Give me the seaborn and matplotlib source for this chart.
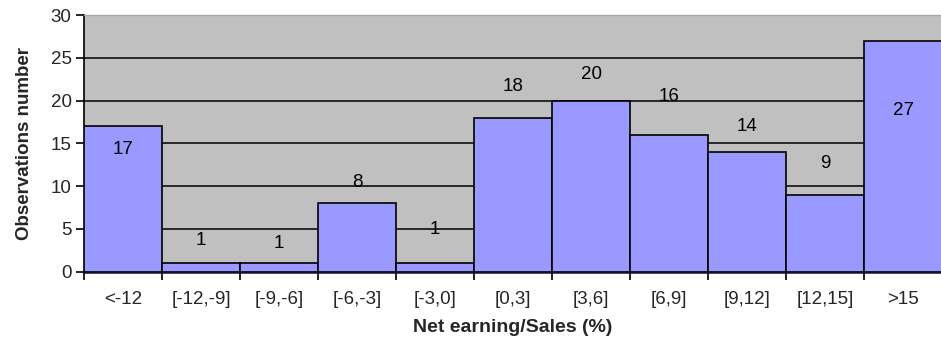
import matplotlib
matplotlib.use("Agg")
import matplotlib.pyplot as plt
import seaborn as sns
import pandas as pd

categories = ["<-12", "[-12,-9]", "[-9,-6]", "[-6,-3]", "[-3,0]", "[0,3]",
              "[3,6]", "[6,9]", "[9,12]", "[12,15]", ">15"]
observations = [17, 1, 1, 8, 1, 18, 20, 16, 14, 9, 27]
# vertical offset of each value label relative to its bar top
label_offsets = [-2.7, 2.6, 2.3, 2.4, 3.95, 3.7, 3.1, 4.5, 2.95, 3.6, -8.2]

sns.set_theme(style="white")
plt.rcParams["font.family"] = ["Liberation Sans", "DejaVu Sans"]

df = pd.DataFrame({"bin": categories, "n": observations})

fig = plt.figure(figsize=(9.41, 3.43), dpi=100)
ax = fig.add_axes([84 / 941, (343 - 271.7) / 343, (942 - 84) / 941, (271.7 - 15) / 343])
ax.set_facecolor("#c0c0c0")

sns.barplot(data=df, x="bin", y="n", ax=ax, color="#9999ff", saturation=1,
            width=1.0, edgecolor="black", linewidth=1.2, zorder=3)

ax.set_ylim(0, 30)
ax.set_xlim(-0.5, len(categories) - 0.5)
ax.set_yticks(range(0, 31, 5))
for y in range(5, 30, 5):
    ax.axhline(y, color="black", linewidth=1.1, zorder=1)

for i, (v, off) in enumerate(zip(observations, label_offsets)):
    ax.text(i, v + off, str(v), ha="center", va="center", fontsize=13.5,
            color="black", zorder=4)

ax.spines["right"].set_visible(False)
ax.spines["top"].set_color("#a8a8a8")
ax.spines["top"].set_linewidth(1.0)
ax.spines["left"].set_color("black")
ax.spines["left"].set_linewidth(1.2)
ax.spines["bottom"].set_color("#101030")
ax.spines["bottom"].set_linewidth(1.8)

# tick marks sit on category boundaries, labels stay centered
ax.set_xticks([i - 0.5 for i in range(len(categories) + 1)], minor=True)
ax.set_xticks(range(len(categories)))
ax.set_xticklabels(categories)
ax.tick_params(axis="x", which="major", length=0, pad=14, labelsize=13.5)
ax.tick_params(axis="x", which="minor", length=6, width=1.2, color="black",
               direction="out", bottom=True)
ax.tick_params(axis="y", length=6, width=1.2, color="black", direction="out",
               left=True, labelsize=13.5, pad=3)

ax.set_xlabel("Net earning/Sales (%)", fontsize=14, fontweight="bold", labelpad=8)
ax.set_ylabel("Observations number", fontsize=13.5, fontweight="bold")
ax.yaxis.set_label_coords(-0.059, 0.5)

fig.savefig("out.png", dpi=100)
